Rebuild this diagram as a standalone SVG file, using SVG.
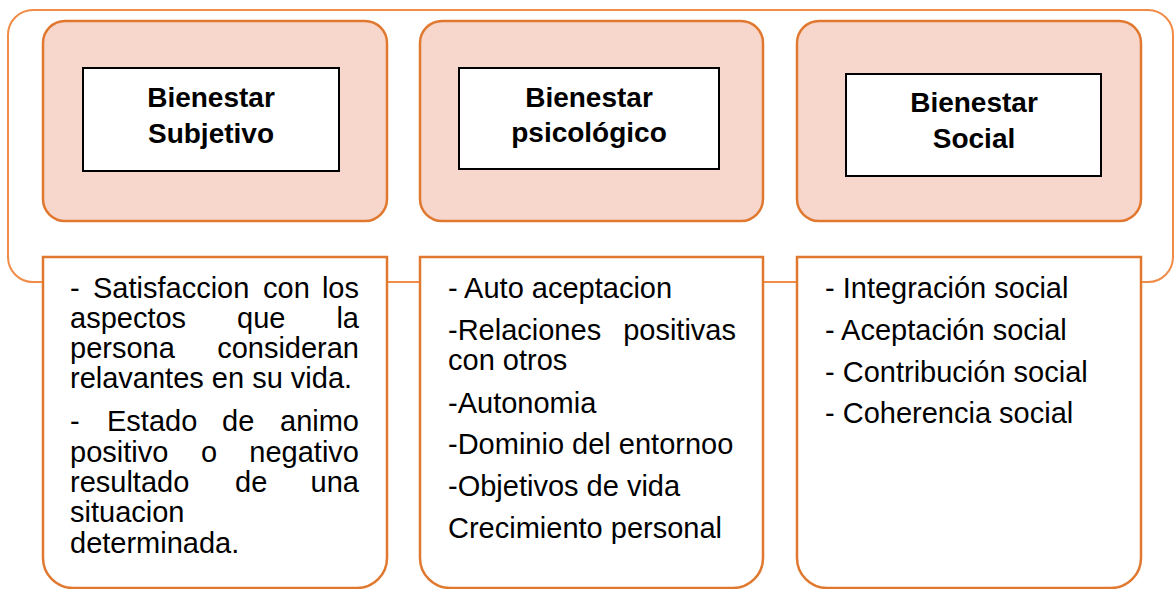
<svg xmlns="http://www.w3.org/2000/svg" width="1174" height="589" viewBox="0 0 1174 589">
<style>
.outer{fill:none;stroke:#F08C48;stroke-width:2}
.head{fill:#F7D7CB;stroke:#E0782F;stroke-width:2.5}
.inner{fill:#fff;stroke:#000;stroke-width:2}
.body{fill:#fff;stroke:#E0782F;stroke-width:2.5}
.ht{font-family:"Liberation Sans",Arial,sans-serif;font-weight:bold;font-size:28px;fill:#000;text-anchor:middle}
.bt{font-family:"Liberation Sans",Arial,sans-serif;font-size:29px;fill:#000}
.e{text-anchor:end}
</style>
<rect width="1174" height="589" fill="#fff"/>
<g id="connectors">
<rect class="outer" x="8" y="10" width="1165" height="272" rx="25" ry="25"/>
</g>
<g id="head1">
<rect class="head" x="43" y="21" width="344" height="200" rx="22" ry="22"/>
<rect class="inner" x="83" y="68" width="256" height="103"/>
<text class="ht" x="211" y="107">Bienestar</text>
<text class="ht" x="211" y="143">Subjetivo</text>
</g>
<g id="head2">
<rect class="head" x="420" y="21" width="343" height="200" rx="22" ry="22"/>
<rect class="inner" x="459" y="68" width="260" height="101"/>
<text class="ht" x="589" y="107">Bienestar</text>
<text class="ht" x="589" y="142">psicológico</text>
</g>
<g id="head3">
<rect class="head" x="797" y="21" width="344" height="200" rx="22" ry="22"/>
<rect class="inner" x="846" y="74" width="255" height="102"/>
<text class="ht" x="974" y="112">Bienestar</text>
<text class="ht" x="974" y="148">Social</text>
</g>
<g id="body1">
<path class="body" d="M43,257 H387 V558 A30,30 0 0 1 357,588 H73 A30,30 0 0 1 43,558 Z"/>
<text class="bt" y="298"><tspan x="70">-</tspan><tspan x="93">Satisfaccion</tspan><tspan x="263">con</tspan><tspan x="359" class="e">los</tspan></text>
<text class="bt" y="328"><tspan x="70">aspectos</tspan><tspan x="237">que</tspan><tspan x="359" class="e">la</tspan></text>
<text class="bt" y="358"><tspan x="70">persona</tspan><tspan x="359" class="e">consideran</tspan></text>
<text class="bt" x="70" y="388">relavantes en su vida.</text>
<text class="bt" y="431"><tspan x="70">-</tspan><tspan x="107">Estado</tspan><tspan x="222">de</tspan><tspan x="359" class="e">animo</tspan></text>
<text class="bt" y="462"><tspan x="70">positivo</tspan><tspan x="201">o</tspan><tspan x="359" class="e">negativo</tspan></text>
<text class="bt" y="492"><tspan x="70">resultado</tspan><tspan x="235">de</tspan><tspan x="359" class="e">una</tspan></text>
<text class="bt" x="70" y="522">situacion</text>
<text class="bt" x="70" y="553">determinada.</text>
</g>
<g id="body2">
<path class="body" d="M420,257 H763 V558 A30,30 0 0 1 733,588 H450 A30,30 0 0 1 420,558 Z"/>
<text class="bt" x="448" y="298">- Auto aceptacion</text>
<text class="bt" y="340"><tspan x="448">-Relaciones</tspan><tspan x="736" class="e">positivas</tspan></text>
<text class="bt" x="448" y="370">con otros</text>
<text class="bt" x="448" y="413">-Autonomia</text>
<text class="bt" x="448" y="454">-Dominio del entornoo</text>
<text class="bt" x="448" y="496">-Objetivos de vida</text>
<text class="bt" x="448" y="538">Crecimiento personal</text>
</g>
<g id="body3">
<path class="body" d="M797,257 H1141 V558 A30,30 0 0 1 1111,588 H827 A30,30 0 0 1 797,558 Z"/>
<text class="bt" x="825" y="298">- Integración social</text>
<text class="bt" x="825" y="340">- Aceptación social</text>
<text class="bt" x="825" y="382">- Contribución social</text>
<text class="bt" x="825" y="423">- Coherencia social</text>
</g>
</svg>
